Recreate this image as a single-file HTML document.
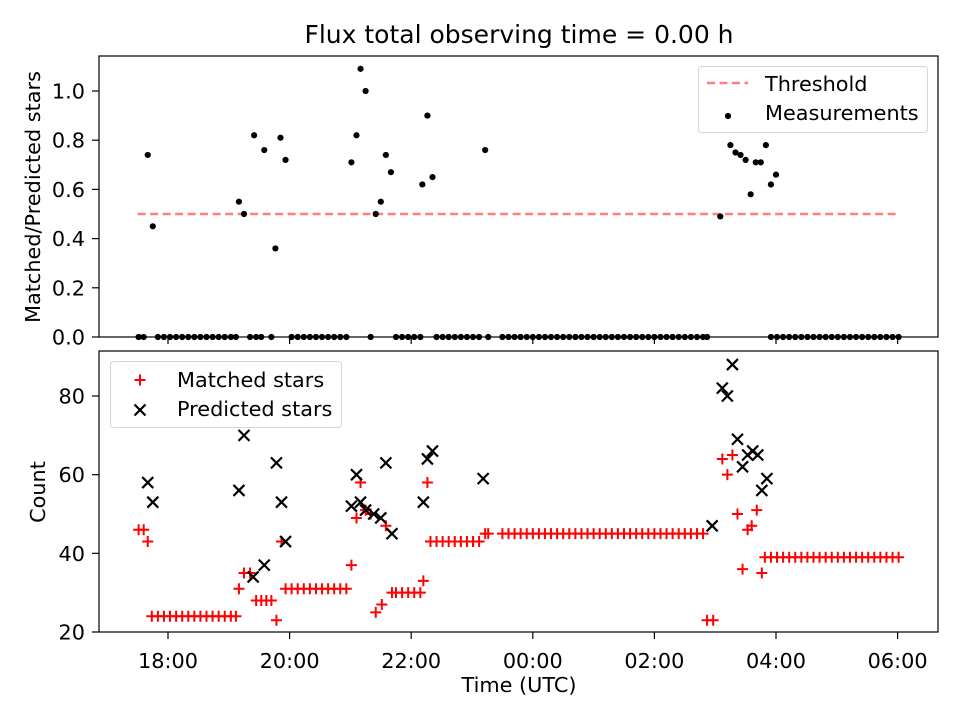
<!DOCTYPE html>
<html><head><meta charset="utf-8"><style>
body{margin:0;background:#fff;}
svg{display:block;font-family:"DejaVu Sans","Liberation Sans",sans-serif;}
</style></head><body>
<svg id="chart" width="960" height="720" viewBox="0 0 960 720"></svg>
<script>
// minutes since 18:00
const matchedTimes=[-29,-24,-20,-16,-10,-4,2,8,14,20,26,32,38,44,50,56,62,67,70,75,81,87,92,97,102,107,112,116,122,128,134,140,146,152,158,164,170,176,181,186,190,195,200,205,211,215,221,225,231,237,243,249,252,256,259,265,271,277,283,289,295,301,307,313,316,330,336,342,348,354,360,366,372,378,384,390,396,402,408,414,420,426,432,438,444,450,456,462,468,474,480,486,492,498,504,510,516,522,528,532,538,547,552,557,562,567,572,576,581,586,589,595,601,607,613,619,625,631,637,643,649,655,661,667,673,679,685,691,697,703,709,715,721];
const matchedValues=[46,46,43,24,24,24,24,24,24,24,24,24,24,24,24,24,24,24,31,35,35,28,28,28,28,23,43,31,31,31,31,31,31,31,31,31,31,31,37,49,58,51,50,25,27,47,30,30,30,30,30,30,33,58,43,43,43,43,43,43,43,43,43,45,45,45,45,45,45,45,45,45,45,45,45,45,45,45,45,45,45,45,45,45,45,45,45,45,45,45,45,45,45,45,45,45,45,45,45,23,23,64,60,65,50,36,46,47,51,35,39,39,39,39,39,39,39,39,39,39,39,39,39,39,39,39,39,39,39,39,39,39,39];
const predTimes=[-20,-15,70,75,84,95,107,112,116,181,186,190,195,203,210,215,221,252,256,261,311,537,547,552,557,562,567,572,577,582,586,591];
const predValues=[58,53,56,70,34,37,63,53,43,52,60,53,51,50,49,63,45,53,64,66,59,47,82,80,88,69,62,65,66,65,56,59];
const ratioTimes=[-20,-15,70,75,85,95,106,111,116,181,186,190,195,205,210,215,220,251,256,261,313,545,555,560,565,570,575,580,585,590,595,600];
const ratioValues=[0.74,0.45,0.55,0.50,0.82,0.76,0.36,0.81,0.72,0.71,0.82,1.09,1.00,0.50,0.55,0.74,0.67,0.62,0.90,0.65,0.76,0.49,0.78,0.75,0.74,0.72,0.58,0.71,0.71,0.78,0.62,0.66];
const xTickMins=[0,120,240,360,480,600,720];
const xTickLabels=["18:00","20:00","22:00","00:00","02:00","04:00","06:00"];
const topTicks=[0,0.2,0.4,0.6,0.8,1.0];
const botTicks=[20,40,60,80];
const threshold=0.5;

const NS="http://www.w3.org/2000/svg";
const svg=document.getElementById('chart');
function mk(t,a,parent){const e=document.createElementNS(NS,t);for(const k in a)e.setAttribute(k,a[k]);(parent||svg).appendChild(e);return e;}
const L=99,R=938,T1=56,B1=337,T2=351,B2=632;
const FS=20.8;
const xs=m=>168+m*60.8/60;
const y1=v=>337-v*246;
const y2=v=>632-(v-20)*3.933;

let t=mk('text',{x:519,y:43,'text-anchor':'middle','font-size':25});t.textContent='Flux total observing time = 0.00 h';



// top panel
const g1=mk('g',{});


let thr=mk('line',{x1:xs(-30),x2:xs(720),y1:y1(threshold),y2:y1(threshold),stroke:'#ff7f7f','stroke-width':2.4,'stroke-dasharray':'8,4.5'},g1);


matchedTimes.forEach(m=>{
  if(predTimes.some(p=>Math.abs(p-m)<3))return;
  const c=mk('circle',{cx:xs(m),cy:y1(0),r:3.1,fill:'#000'},g1);
  
  
});
ratioTimes.forEach((m,i)=>{
  const c=mk('circle',{cx:xs(m),cy:y1(ratioValues[i]),r:3.1,fill:'#000'},g1);
  
  
});
topTicks.forEach(v=>{
  mk('line',{x1:L-7,x2:L,y1:y1(v),y2:y1(v),stroke:'#000','stroke-width':1.2},g1);
  const tx=mk('text',{x:L-14,y:y1(v)+7.5,'text-anchor':'end','font-size':FS},g1);tx.textContent=v.toFixed(1);
  
  
});
xTickMins.forEach(m=>mk('line',{x1:xs(m),x2:xs(m),y1:B1,y2:B1+7,stroke:'#000','stroke-width':1.2},g1));
mk('rect',{x:L,y:T1,width:R-L,height:B1-T1,fill:'none',stroke:'#000','stroke-width':1.2},g1);
let yl=mk('text',{transform:'translate(40,197) rotate(-90)','text-anchor':'middle','font-size':FS},g1);yl.textContent='Matched/Predicted stars';


// top legend
const lg1=mk('g',{},g1);


mk('rect',{x:698.5,y:66.5,width:229,height:66,rx:3,fill:'#fff',stroke:'#d6d6d6','stroke-width':1},lg1);
mk('line',{x1:707,x2:748,y1:83,y2:83,stroke:'#ff7f7f','stroke-width':2.4,'stroke-dasharray':'8,4.5'},lg1);
let lt=mk('text',{x:765,y:91,'font-size':FS},lg1);lt.textContent='Threshold';
mk('circle',{cx:728,cy:116,r:3.1,fill:'#000'},lg1);
lt=mk('text',{x:765,y:120,'font-size':FS},lg1);lt.textContent='Measurements';

// bottom panel
const g2=mk('g',{});


matchedTimes.forEach((m,i)=>{
  const x=xs(m),y=y2(matchedValues[i]);
  const p=mk('path',{d:`M${x-5.5},${y}H${x+5.5}M${x},${y-5.5}V${y+5.5}`,stroke:'#ff0000','stroke-width':2,fill:'none'},g2);
  
  
});
predTimes.forEach((m,i)=>{
  const x=xs(m),y=y2(predValues[i]),s=5.5;
  const p=mk('path',{d:`M${x-s},${y-s}L${x+s},${y+s}M${x-s},${y+s}L${x+s},${y-s}`,stroke:'#000','stroke-width':2.2,fill:'none'},g2);
  
  
});
botTicks.forEach(v=>{
  mk('line',{x1:L-7,x2:L,y1:y2(v),y2:y2(v),stroke:'#000','stroke-width':1.2},g2);
  const tx=mk('text',{x:L-14,y:y2(v)+7.5,'text-anchor':'end','font-size':FS},g2);tx.textContent=v;
  
  
});
xTickMins.forEach((m,i)=>{
  mk('line',{x1:xs(m),x2:xs(m),y1:B2,y2:B2+7,stroke:'#000','stroke-width':1.2},g2);
  const tx=mk('text',{x:xs(m),y:B2+36,'text-anchor':'middle','font-size':FS},g2);tx.textContent=xTickLabels[i];
  
  
});
mk('rect',{x:L,y:T2,width:R-L,height:B2-T2,fill:'none',stroke:'#000','stroke-width':1.2},g2);
yl=mk('text',{transform:'translate(45,492) rotate(-90)','text-anchor':'middle','font-size':FS},g2);yl.textContent='Count';


let xl=mk('text',{x:519,y:692,'text-anchor':'middle','font-size':FS},g2);xl.textContent='Time (UTC)';


const lg2=mk('g',{},g2);


mk('rect',{x:110.5,y:361.5,width:231,height:66,rx:3,fill:'#fff',stroke:'#d6d6d6','stroke-width':1},lg2);
mk('path',{d:'M134.5,380H145.5M140,374.5V385.5',stroke:'#ff0000','stroke-width':2},lg2);
lt=mk('text',{x:177,y:387,'font-size':FS},lg2);lt.textContent='Matched stars';
mk('path',{d:'M134.5,404.5L145.5,415.5M134.5,415.5L145.5,404.5',stroke:'#000','stroke-width':2.2},lg2);
lt=mk('text',{x:177,y:416,'font-size':FS},lg2);lt.textContent='Predicted stars';
</script>
</body></html>
